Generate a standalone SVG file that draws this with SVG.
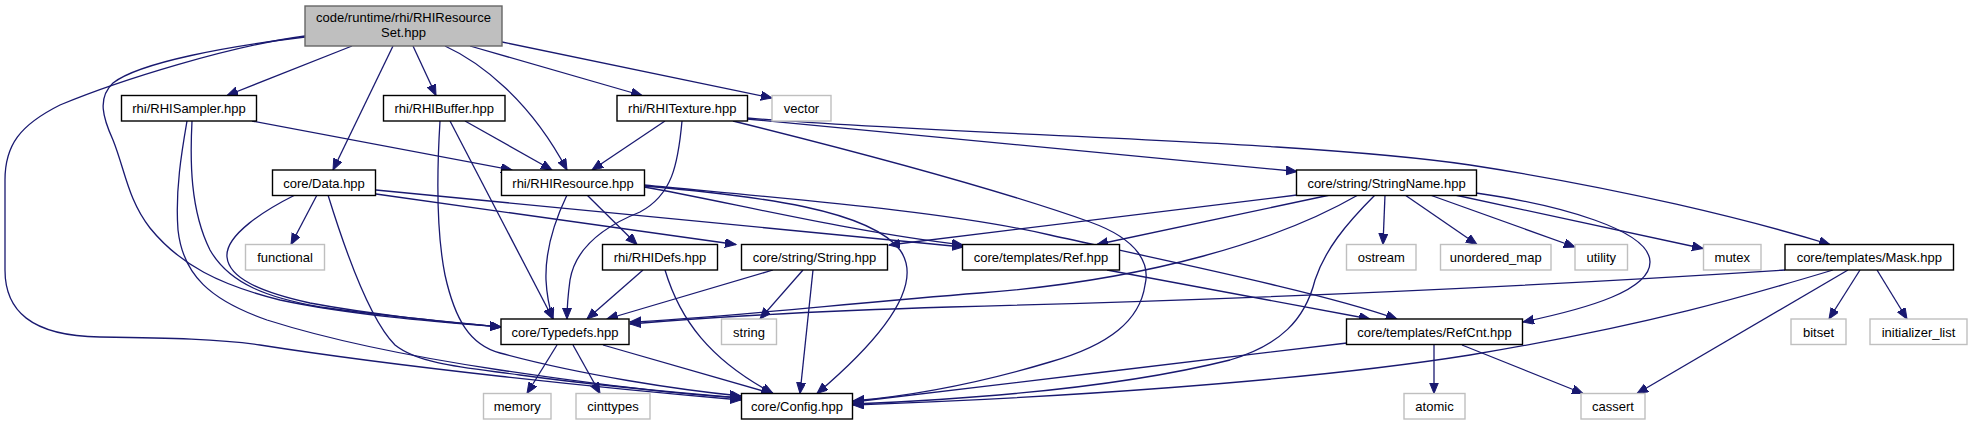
<svg xmlns="http://www.w3.org/2000/svg" width="1972" height="425" viewBox="0 0 1972 425">
<style>
.n rect{fill:#fff;stroke:#000;stroke-width:1.4}
.g rect{fill:#fff;stroke:#bfbfbf;stroke-width:1.4}
.m rect{fill:#bfbfbf;stroke:#666;stroke-width:1.4}
text{font-family:"Liberation Sans",Arial,sans-serif;font-size:13px;fill:#000;text-anchor:middle}
#edges path{fill:none;stroke:#191970;stroke-width:1.3;marker-end:url(#a)}
</style>
<defs>
<marker id="a" markerUnits="userSpaceOnUse" markerWidth="13" markerHeight="10" refX="11" refY="4.5" orient="auto">
<path d="M0,0 L11,4.5 L0,9 z" fill="#191970" stroke="#191970" stroke-width="1"/>
</marker>
</defs>
<rect width="1972" height="425" fill="#fff"/>
<g id="edges">
<path d="M352,46 L227,95.5"/>
<path d="M413,46 L436,95.5"/>
<path d="M470,46 L642,95.5"/>
<path d="M502,42 L772,98"/>
<path d="M393,46 L333,170"/>
<path d="M445,46 C480,62 530,100 567,170"/>
<path d="M305,37 C230,46 140,62 113,83 C97,98 103,118 113,140 C125,170 128,200 150,228 C180,265 220,285 280,300 C350,315 440,322 501,327"/>
<path d="M305,36 C230,46 120,80 60,105 C20,125 5,145 5,180 L5,270 C5,310 30,336 100,337 C170,338 220,339 260,345 C400,367 600,388 741,400"/>
<path d="M252,121 L512,170"/>
<path d="M187,121 C182,150 175,190 178,230 C183,275 210,300 267,320 C330,340 420,358 500,370 C600,385 690,395 741,398"/>
<path d="M192,121 C190,160 190,210 210,250 C230,285 270,298 320,307 C400,318 460,323 501,327"/>
<path d="M465,121 L552,170"/>
<path d="M450,121 L553,319"/>
<path d="M440,121 C437,170 436,230 445,275 C455,320 470,345 500,353 C580,375 680,390 741,396"/>
<path d="M665,121 L592,170"/>
<path d="M682,121 C678,165 672,195 640,212 C600,228 575,250 570,280 C568,295 567,310 567,319"/>
<path d="M733,121 C850,150 1000,190 1090,222 C1140,240 1150,265 1145,285 C1140,320 1110,345 1050,362 C990,380 920,395 853,401"/>
<path d="M747,119 L1297,171.5"/>
<path d="M747,118 C950,135 1300,140 1470,165 C1620,188 1750,220 1830,244.5"/>
<path d="M295,195 C265,210 225,235 227,257 C229,278 260,292 310,303 C380,316 450,322 501,327"/>
<path d="M317,195 L291,244.5"/>
<path d="M328,195 C345,250 370,320 395,345 C420,365 470,368 520,375 C600,386 680,393 741,398"/>
<path d="M376,194 L736,244.5"/>
<path d="M376,190 L963,247"/>
<path d="M644,187 C720,200 850,232 963,245"/>
<path d="M644,185 C800,200 950,212 1050,235 C1200,268 1330,295 1397,319"/>
<path d="M644,186 C760,196 870,210 900,250 C925,285 880,340 817,393.5"/>
<path d="M587,195 L637,244.5"/>
<path d="M567,195 C555,220 545,250 546,280 C547,300 550,310 553,319"/>
<path d="M1297,195 L889,245"/>
<path d="M1330,195 L1097,244.5"/>
<path d="M1358,195 C1280,240 1150,280 980,293 C850,303 720,318 630,322"/>
<path d="M1785,270 C1600,282 1300,298 950,307 C820,311 700,318 630,324"/>
<path d="M1375,195 C1345,225 1325,250 1315,280 C1305,320 1280,345 1230,360 C1130,385 1000,398 853,404"/>
<path d="M1385,195 L1383,244.5"/>
<path d="M1405,195 L1477,244.5"/>
<path d="M1430,195 L1575,247"/>
<path d="M1455,195 L1703,248.5"/>
<path d="M1476,193 C1560,205 1650,230 1650,262 C1650,290 1590,308 1523,322"/>
<path d="M1107,270 L1370,319"/>
<path d="M1833,270 C1750,295 1650,325 1470,355 C1300,382 1050,398 853,405"/>
<path d="M1848,270 L1637,393.5"/>
<path d="M1860,270 L1829,319"/>
<path d="M1877,270 L1907,319"/>
<path d="M1347,343 C1200,360 1000,385 853,402"/>
<path d="M1434,345 L1434,393.5"/>
<path d="M1462,345 L1583,393.5"/>
<path d="M557,345 L527,393.5"/>
<path d="M573,345 L600,393.5"/>
<path d="M603,345 L772,393.5"/>
<path d="M643,270 L587,319"/>
<path d="M665,270 C680,320 710,360 773,393.5"/>
<path d="M773,270 L607,319"/>
<path d="M803,270 L760,319"/>
<path d="M813,270 L800,393.5"/>
</g>
<g id="n_main" class="m"><rect x="305" y="6" width="197" height="40"/><text x="403.5" y="22">code/runtime/rhi/RHIResource</text><text x="403.5" y="37">Set.hpp</text></g>
<g id="n_sampler" class="n"><rect x="121.5" y="95.5" width="135" height="25.5"/><text x="189" y="113">rhi/RHISampler.hpp</text></g>
<g id="n_buffer" class="n"><rect x="383.5" y="95.5" width="121.5" height="25.5"/><text x="444.25" y="113">rhi/RHIBuffer.hpp</text></g>
<g id="n_texture" class="n"><rect x="617" y="95.5" width="130.5" height="25.5"/><text x="682.25" y="113">rhi/RHITexture.hpp</text></g>
<g id="n_vector" class="g"><rect x="772" y="95.5" width="59" height="25.5"/><text x="801.5" y="113">vector</text></g>
<g id="n_data" class="n"><rect x="272.5" y="170" width="103" height="25.5"/><text x="324" y="187.5">core/Data.hpp</text></g>
<g id="n_rhiresource" class="n"><rect x="501.5" y="170" width="143" height="25.5"/><text x="573" y="187.5">rhi/RHIResource.hpp</text></g>
<g id="n_stringname" class="n"><rect x="1296.5" y="170" width="180" height="25.5"/><text x="1386.5" y="187.5">core/string/StringName.hpp</text></g>
<g id="n_functional" class="g"><rect x="245.5" y="244.5" width="79" height="25.5"/><text x="285" y="262">functional</text></g>
<g id="n_rhidefs" class="n"><rect x="602.5" y="244.5" width="115" height="25.5"/><text x="660" y="262">rhi/RHIDefs.hpp</text></g>
<g id="n_string" class="n"><rect x="741.5" y="244.5" width="146" height="25.5"/><text x="814.5" y="262">core/string/String.hpp</text></g>
<g id="n_ref" class="n"><rect x="962.5" y="244.5" width="157" height="25.5"/><text x="1041" y="262">core/templates/Ref.hpp</text></g>
<g id="n_ostream" class="g"><rect x="1346.5" y="244.5" width="69.5" height="25.5"/><text x="1381.25" y="262">ostream</text></g>
<g id="n_umap" class="g"><rect x="1440.5" y="244.5" width="110.5" height="25.5"/><text x="1495.75" y="262">unordered_map</text></g>
<g id="n_utility" class="g"><rect x="1575" y="244.5" width="52.5" height="25.5"/><text x="1601.25" y="262">utility</text></g>
<g id="n_mutex" class="g"><rect x="1703.5" y="244.5" width="57.5" height="25.5"/><text x="1732.25" y="262">mutex</text></g>
<g id="n_mask" class="n"><rect x="1785" y="244.5" width="168.5" height="25.5"/><text x="1869.25" y="262">core/templates/Mask.hpp</text></g>
<g id="n_typedefs" class="n"><rect x="501" y="319" width="128" height="25.5"/><text x="565" y="336.5">core/Typedefs.hpp</text></g>
<g id="n_stdstring" class="g"><rect x="721.5" y="319" width="55" height="25.5"/><text x="749" y="336.5">string</text></g>
<g id="n_refcnt" class="n"><rect x="1346.5" y="319" width="176" height="25.5"/><text x="1434.5" y="336.5">core/templates/RefCnt.hpp</text></g>
<g id="n_bitset" class="g"><rect x="1791" y="319" width="55" height="25.5"/><text x="1818.5" y="336.5">bitset</text></g>
<g id="n_initlist" class="g"><rect x="1870" y="319" width="97" height="25.5"/><text x="1918.5" y="336.5">initializer_list</text></g>
<g id="n_memory" class="g"><rect x="483.5" y="393.5" width="67.5" height="25.5"/><text x="517.25" y="411">memory</text></g>
<g id="n_cinttypes" class="g"><rect x="576" y="393.5" width="74" height="25.5"/><text x="613" y="411">cinttypes</text></g>
<g id="n_config" class="n"><rect x="741.5" y="393.5" width="111" height="25.5"/><text x="797" y="411">core/Config.hpp</text></g>
<g id="n_atomic" class="g"><rect x="1404" y="393.5" width="61" height="25.5"/><text x="1434.5" y="411">atomic</text></g>
<g id="n_cassert" class="g"><rect x="1581" y="393.5" width="64" height="25.5"/><text x="1613" y="411">cassert</text></g>
</svg>
